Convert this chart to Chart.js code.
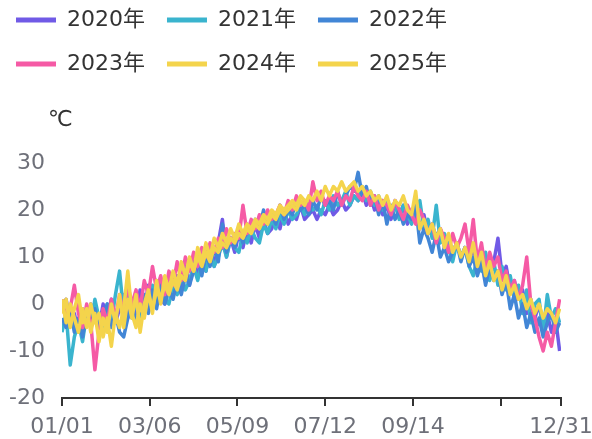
<!DOCTYPE html>
<html>
<head>
<meta charset="utf-8">
<script src="https://cdn.jsdelivr.net/npm/chart.js@4"></script>
<style>
  body { margin: 0; background: #fff; }
</style>
</head>
<body>
<canvas id="tempChart" width="592" height="439"></canvas>
<script>
// one value every 3 days, starting 01/01
var dayStep = 3;
var seriesNames = ['2020年', '2021年', '2022年', '2023年', '2024年', '2025年'];
var seriesColors = ['#705ae6', '#3ab4ce', '#4286d6', '#f55aa5', '#f4d44c', '#f4d44c'];
var tickDays = [0, 64, 128, 192, 256, 320, 364];
var tickLabels = ['01/01', '03/06', '05/09', '07/12', '09/14', '', '12/31'];

var t2020 = [-1, 1, -4, -2, -6, -1, -4, 0, -3, -5, 0, -3, 1, -4, -1, 2, -3, 1, -2, 3,
    -1, 4, 0, 5, 1, 0, 5, 2, 6, 3, 8, 4, 9, 6, 10, 7, 12, 8, 13, 18,
    10, 14, 11, 15, 12, 16, 13, 17, 14, 18, 15, 16, 19, 16, 20, 17, 19, 18, 21, 18,
    19, 20, 18, 20, 19, 21, 19, 20, 22, 20, 21, 23, 22, 24, 21, 23, 20, 22, 19, 21,
    18, 22, 19, 21, 17, 20, 18, 16, 19, 15, 17, 14, 16, 12, 14, 11, 13, 10, 12, 9,
    12, 8, 11, 7, 10, 9, 14, 6, 8, 3, 5, 1, 3, -2, 1, -3, 0, -5, -2, -6, -3, -10];
var t2021 = [-6, -2, -13, -7, -4, -8, -2, -5, 1, -3, -6, 0, -4, 2, 7, -2, 3, -3, 1, -4,
    2, -1, 4, 0, 5, 1, 0, 4, 2, 6, 3, 5, 8, 5, 9, 7, 11, 8, 10, 13,
    10, 14, 12, 11, 15, 13, 16, 14, 13, 17, 15, 18, 16, 19, 17, 20, 18, 19, 21, 19,
    22, 20, 21, 19, 22, 20, 23, 21, 22, 24, 21, 23, 22, 25, 22, 24, 21, 23, 20, 22,
    20, 21, 18, 21, 19, 17, 20, 22, 16, 18, 14, 21, 13, 15, 12, 9, 13, 10, 12, 8,
    6, 10, 7, 11, 5, 9, 4, 8, 3, 6, 1, 4, -2, 3, -4, 0, 1, -6, 2, -3, -1, -4];
var t2022 = [-3, -5, -1, -6, -3, -7, -2, -5, -1, -6, -3, 0, -5, -2, -6, -7, -3, 0, -4, -1,
    2, -2, 3, -1, 4, 0, 3, 1, 5, 2, 6, 4, 7, 10, 6, 11, 8, 12, 9, 17,
    11, 14, 12, 16, 13, 17, 15, 18, 16, 20, 17, 19, 17, 21, 18, 20, 19, 22, 20, 21,
    19, 22, 20, 23, 21, 22, 20, 24, 21, 23, 25, 24, 28, 23, 25, 21, 23, 19, 22, 17,
    21, 18, 20, 17, 19, 18, 21, 13, 16, 14, 11, 15, 10, 12, 9, 11, 13, 9, 12, 8,
    10, 6, 9, 4, 8, 5, 7, 2, 5, -1, 2, -3, 0, -5, -2, -6, -3, -7, -4, -2, -6, -4];
var t2023 = [1, -3, -1, 4, -2, -5, 0, -4, -14, -6, -1, -4, 1, -3, 2, -2, 4, 0, 3, -1,
    5, 2, 8, 3, 6, 2, 7, 4, 9, 5, 10, 7, 11, 8, 12, 10, 13, 11, 14, 12,
    16, 13, 15, 14, 21, 15, 18, 16, 19, 17, 20, 18, 19, 21, 19, 22, 20, 23, 21, 22,
    20, 26, 22, 24, 21, 23, 22, 24, 21, 23, 22, 25, 23, 22, 24, 21, 23, 20, 22, 21,
    19, 22, 20, 18, 21, 19, 17, 20, 18, 15, 17, 13, 16, 14, 11, 15, 12, 14, 17, 11,
    18, 9, 13, 7, 11, 8, 10, 5, 7, 3, 5, 1, 4, 10, 0, -3, -7, -10, -6, -9, -4, 1];
var t2024 = [1, -4, 0, -3, -6, -1, -5, 0, -4, -2, -7, -3, -9, -2, -5, -1, 7, -2, -5, 0,
    -3, 2, -1, 3, 1, 4, 2, 5, 3, 6, 5, 9, 7, 10, 8, 11, 9, 12, 11, 13,
    12, 14, 13, 15, 14, 16, 15, 17, 16, 18, 17, 19, 18, 20, 19, 20, 21, 20, 22, 21,
    23, 22, 24, 22, 25, 23, 25, 24, 26, 24, 25, 26, 24, 25, 23, 24, 22, 23, 21, 23,
    20, 22, 21, 23, 20, 19, 24, 16, 18, 15, 17, 14, 16, 12, 15, 11, 13, 10, 12, 9,
    13, 8, 11, 6, 9, 5, 7, 3, 6, 2, 4, 1, 2, -1, 1, -2, 0, -3, -1, -2, -4, -1];
var t2025 = [-2, 1, -5, -1, 2, -4, -1, -6, -2, -8, -3, -6, 0, -4, 2, -5, 1, -3, 2, -6,
    0, 3, -2, 5, 0, 6, 3, 7, 4, 9, 6, 10, 7, 12, 9, 13, 10, 14, 12, 15,
    13, 16, 14, 17, 15, 17, 16, 18, 17, 19, 18, 20, 19, 21, 20, 21, 22, 21, 23, 22, 22];

var allSeries = [t2020, t2021, t2022, t2023, t2024, t2025];

function dayLabel(v) {
    var i = tickDays.indexOf(v);
    return i < 0 ? '' : tickLabels[i];
}

Chart.defaults.font.family = "'DejaVu Sans', 'Noto Sans CJK SC', sans-serif";
Chart.defaults.font.size = 22;

var legendHeight = {
    id: 'legendHeight',
    beforeLayout: function (chart) {
        var lg = chart.legend;
        if (lg && !lg._patched) {
            var fit = lg.fit;
            lg.fit = function () { fit.call(this); this.height = 176; };
            lg._patched = true;
        }
    }
};

var unitLabel = {
    id: 'unitLabel',
    afterDraw: function (chart) {
        var c = chart.ctx, a = chart.chartArea;
        c.save();
        c.fillStyle = '#333';
        c.font = "22px 'DejaVu Sans', 'Noto Sans CJK SC', sans-serif";
        c.textBaseline = 'middle';
        c.fillText('℃', a.left - 14, a.top - 43);
        c.restore();
    }
};

var ctx1 = document.getElementById('tempChart').getContext('2d');
var tempChart = new Chart(ctx1, {
    type: 'line',
    data: {
        datasets: allSeries.map(function (vals, k) {
            return {
                label: seriesNames[k],
                data: vals.map(function (v, i) { return { x: i * dayStep, y: v }; }),
                borderColor: seriesColors[k],
                backgroundColor: seriesColors[k],
                borderWidth: 3.5,
                borderJoinStyle: 'round',
                pointRadius: 0,
                tension: 0,
                fill: false,
                order: allSeries.length - k
            };
        })
    },
    options: {
        responsive: false,
        animation: false,
        layout: { padding: { left: -6, top: -13, right: 0, bottom: 0 } },
        plugins: {
            tooltip: { enabled: false },
            legend: {
                align: 'start',
                labels: {
                    color: '#333',
                    boxWidth: 40,
                    boxHeight: 5,
                    padding: 22,
                    sort: function (a, b) { return a.datasetIndex - b.datasetIndex; },
                    generateLabels: function (chart) {
                        return Chart.defaults.plugins.legend.labels.generateLabels(chart).map(function (l) {
                            l.lineWidth = 0;
                            return l;
                        });
                    }
                }
            }
        },
        scales: {
            x: {
                type: 'linear',
                min: 0,
                max: 364,
                afterBuildTicks: function (axis) {
                    axis.ticks = tickDays.map(function (v) { return { value: v }; });
                },
                afterFit: function (axis) {
                    axis.height = 41;
                    axis.paddingRight = 31;
                },
                ticks: {
                    autoSkip: false,
                    maxRotation: 0,
                    color: '#6e7079',
                    padding: 8,
                    callback: function (v) { return dayLabel(v); }
                },
                grid: { drawOnChartArea: false, tickLength: 8, color: '#333', lineWidth: 2 },
                border: { color: '#333', width: 2 }
            },
            y: {
                min: -20,
                max: 30,
                afterFit: function (axis) { axis.width = 68; },
                ticks: { stepSize: 10, color: '#6e7079', padding: 17 },
                grid: { display: false, drawTicks: false },
                border: { display: false }
            }
        }
    },
    plugins: [legendHeight, unitLabel]
});
</script>
</body>
</html>
